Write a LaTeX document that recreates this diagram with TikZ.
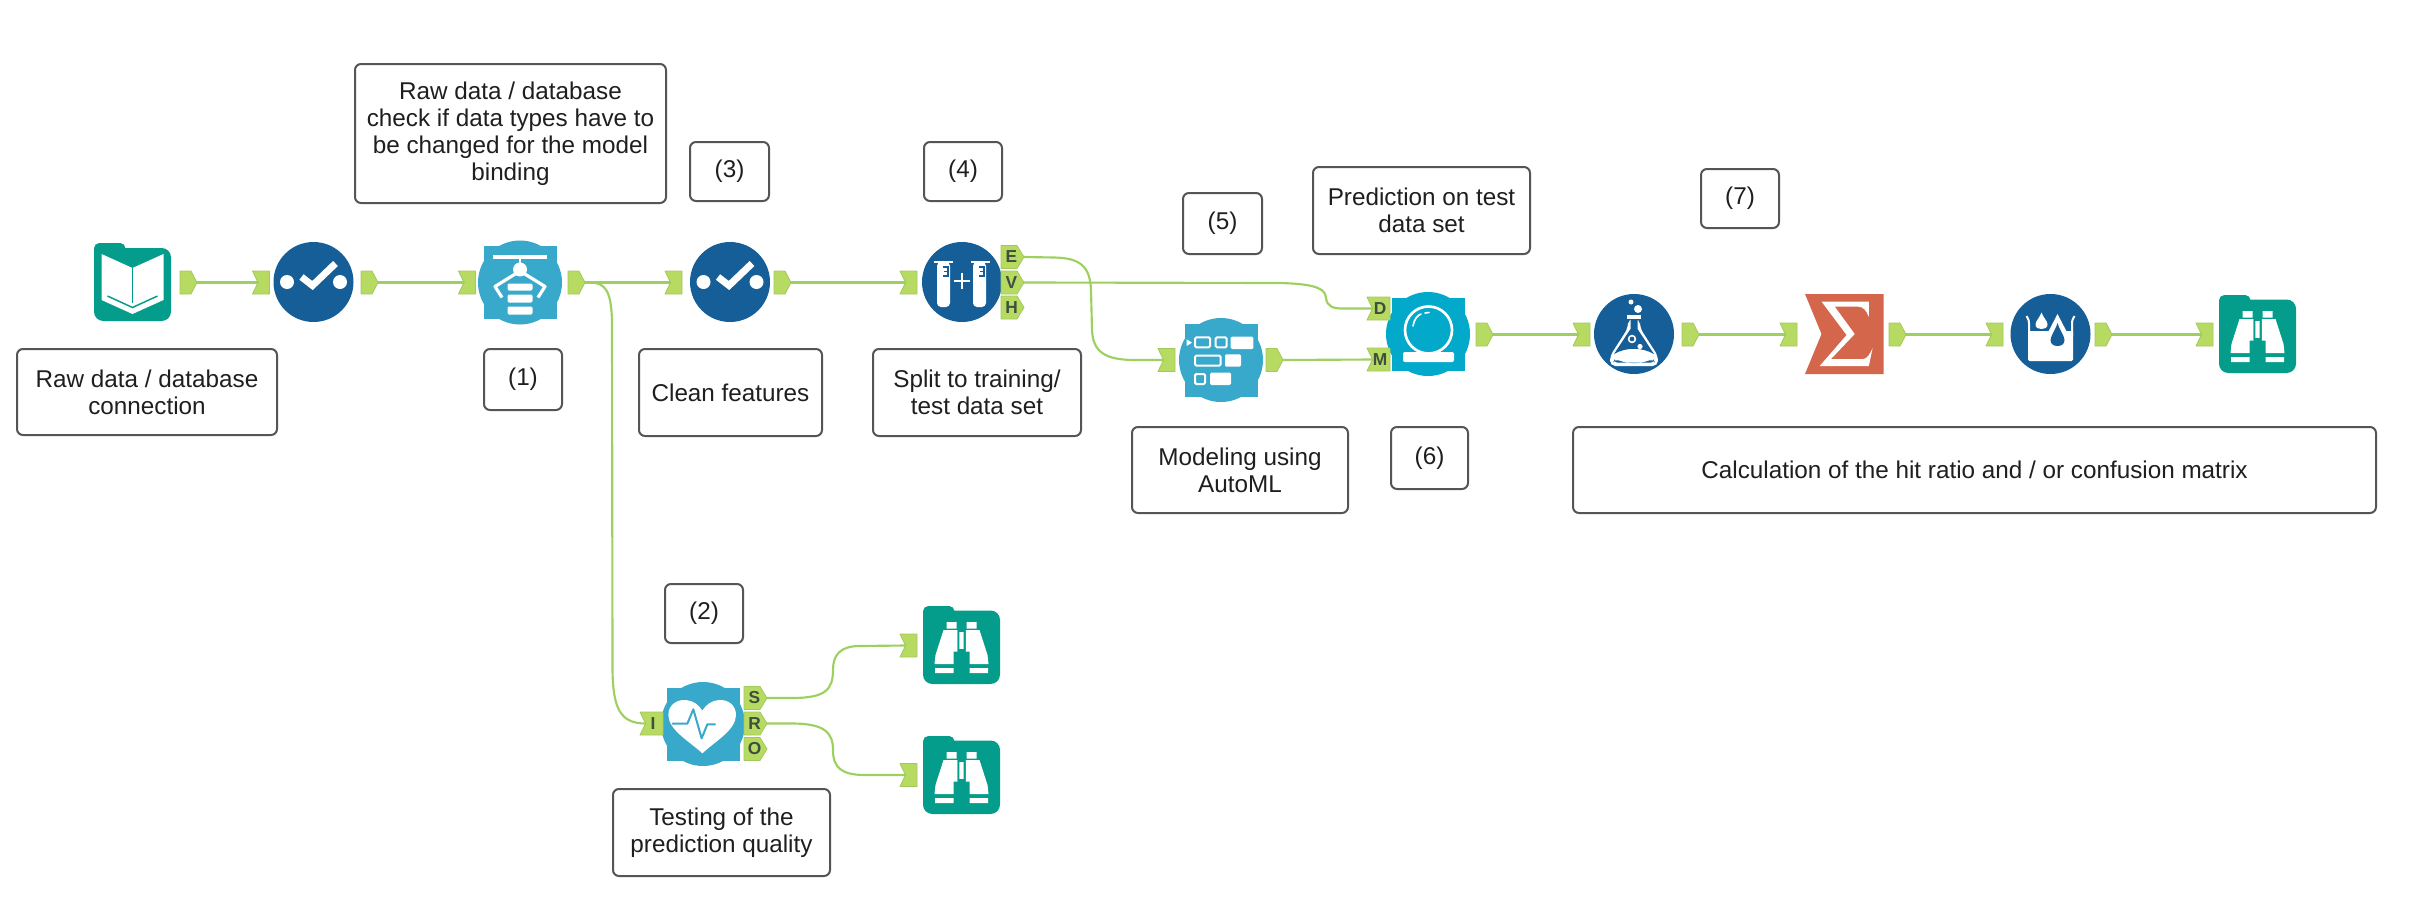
\documentclass[tikz,border=0pt]{standalone}
\usepackage{fontspec}
\setmainfont{Liberation Sans}
\definecolor{teal1}{HTML}{049C8A}
\definecolor{dblue}{HTML}{165E98}
\definecolor{lblue}{HTML}{38A8CB}
\definecolor{cblue}{HTML}{02A9CB}
\definecolor{sigm}{HTML}{D4664B}
\definecolor{tabg}{HTML}{B7DA62}
\definecolor{tabe}{HTML}{A3C95C}
\definecolor{wire}{HTML}{9DD05F}
\definecolor{tabt}{HTML}{3F4F3F}
\definecolor{boxe}{HTML}{555555}
\tikzset{
  tbox/.style={draw=boxe,line width=1.5pt,rounded corners=4.5pt,fill=white,align=center,inner sep=0pt,
    font=\fontsize{18.2}{20.2}\selectfont,text=black!88},
  wirel/.style={draw=wire,line width=1.6pt,line cap=round},
  tabs/.style={fill=tabg,draw=tabe,line width=0.6pt,line join=round},
  tablab/.style={font=\bfseries\fontsize{13}{13}\selectfont,text=tabt,inner sep=0pt},
  pics/checkc/.style={code={
    \fill[dblue] (0,0) circle (40);
    \fill[white] (-26.5,0) circle (7) (26.5,0) circle (7);
    \draw[white,line width=5.2pt] (-12,-5) -- (-1,3.5) -- (22,-18.5);
  }},
  pics/binoc/.style={code={
    \fill[teal1,rounded corners=4pt] (-38.5,-39) rectangle (-7,-20);
    \fill[teal1,rounded corners=7pt] (-38.5,-34.5) rectangle (38.5,39);
    \fill[white] (-15,-23) rectangle (-5,-16.5) (5,-23) rectangle (15,-16.5);
    \fill[white] (-18,-15) -- (-4,-15) -- (-4,6.5) -- (-8,6.5) -- (-8,19) -- (-27,19) -- (-26,10) -- cycle;
    \fill[white] (18,-15) -- (4,-15) -- (4,6.5) -- (8,6.5) -- (8,19) -- (27,19) -- (26,10) -- cycle;
    \fill[white] (-2.2,-13) rectangle (2.2,4);
    \fill[teal1] (-4,-15) rectangle (-2.2,6.5) (2.2,-15) rectangle (4,6.5);
    \fill[white] (-26.5,23) rectangle (-8,28) (26.5,23) rectangle (8,28);
  }},
  pics/squircle/.style={code={
    \fill[#1] (0,0) circle (42);
    \fill[#1] (-36.5,-36.5) rectangle (36.5,36.5);
  }},
}
\newcommand{\tb}[6]{%
  \pgfmathsetmacro{\tbw}{(#4-#2)*0.75}%
  \pgfmathsetmacro{\tbh}{(#5-#3)*0.75}%
  \node[tbox,minimum width=\tbw pt,minimum height=\tbh pt] (#1) at ({(#2+#4)/2},{(#3+#5)/2}) {#6};}
\newcommand{\outtab}[3]{%
  \draw[tabs] (#2,#3-11.5) -- (#2+11,#3-11.5) -- (#2+17,#3) -- (#2+11,#3+11.5) -- (#2,#3+11.5) -- cycle;
  \coordinate (#1) at (#2+17,#3);}
\newcommand{\outlab}[4]{%
  \draw[tabs] (#2,#3-11.5) -- (#2+16,#3-11.5) -- (#2+23,#3) -- (#2+16,#3+11.5) -- (#2,#3+11.5) -- cycle;
  \node[tablab] at (#2+10.5,#3) {#4};
  \coordinate (#1) at (#2+23,#3);}
\newcommand{\intab}[3]{%
  \draw[tabs] (#2,#3-11.5) -- (#2+17,#3-11.5) -- (#2+17,#3+11.5) -- (#2,#3+11.5) -- (#2+5.5,#3) -- cycle;
  \coordinate (#1) at (#2+5.5,#3);}
\newcommand{\inlab}[4]{%
  \draw[tabs] (#2,#3-11.5) -- (#2+23,#3-11.5) -- (#2+23,#3+11.5) -- (#2,#3+11.5) -- (#2+5.5,#3) -- cycle;
  \node[tablab] at (#2+13,#3) {#4};
  \coordinate (#1) at (#2+5.5,#3);}
\begin{document}
\begin{tikzpicture}[x=0.75pt,y=-0.75pt]
\useasboundingbox (0,0) rectangle (2428,921);
\fill[white] (0,0) rectangle (2428,921);

% text boxes
\tb{rawc}{17}{349}{277}{435}{Raw data / database\\connection}
\tb{rawt}{355}{64}{666}{203}{Raw data / database\\check if data types have to\\be changed for the model\\binding}
\tb{one}{484}{349}{562}{410}{(1)}
\tb{clean}{639}{349}{822}{436}{Clean features}
\tb{two}{665}{584}{743}{643}{(2)}
\tb{three}{690}{142}{769}{201}{(3)}
\tb{four}{924}{142}{1002}{201}{(4)}
\tb{split}{873}{349}{1081}{436}{Split to training/\\test data set}
\tb{five}{1183}{193}{1262}{254}{(5)}
\tb{predt}{1313}{167}{1530}{254}{Prediction on test\\data set}
\tb{model}{1132}{427}{1348}{513}{Modeling using\\AutoML}
\tb{six}{1391}{427}{1468}{489}{(6)}
\tb{seven}{1701}{169}{1779}{228}{(7)}
\tb{calc}{1573}{427}{2376}{513}{Calculation of the hit ratio and / or confusion matrix}
\tb{test}{613}{789}{830}{876}{Testing of the\\prediction quality}

% book icon
\begin{scope}[shift={(132.5,282)}]
  \fill[teal1,rounded corners=4pt] (-38.5,-39) rectangle (-7,-20);
  \fill[teal1,rounded corners=7pt] (-38.5,-34) rectangle (38.5,39);
  \fill[white] (-31,-28) -- (0,-14) -- (31,-28) -- (31,18) -- (0,32) -- (-31,18) -- cycle;
  \draw[teal1,line width=1.1pt] (0,-14) -- (0,21);
  \draw[teal1,line width=1.1pt] (-25,14) -- (0,25.5) -- (25,14);
\end{scope}

% select tools
\pic at (313.5,282) {checkc};
\pic at (730,282) {checkc};

% crane icon
\begin{scope}[shift={(520,282.5)}]
  \pic {squircle=lblue};
  \draw[white,line width=3pt] (-27,-26) -- (27,-26);
  \draw[white,line width=2pt] (0,-26) -- (0,-14);
  \fill[white] (0,-13) circle (7);
  \draw[white,line width=2.4pt,line join=round] (-4,-9) -- (-25,4) -- (-18,15);
  \draw[white,line width=2.4pt,line join=round] (4,-9) -- (25,4) -- (18,15);
  \fill[white,rounded corners=1pt] (-12.5,1) rectangle (12.5,8) (-12.5,12) rectangle (12.5,20) (-12.5,24) rectangle (12.5,32);
\end{scope}

% create samples
\begin{scope}[shift={(962,282)}]
  \fill[dblue] (0,0) circle (40);
  \fill[white] (-28,-21) rectangle (-9,-19);
  \fill[white,rounded corners=3pt] (-25,-20) -- (-12,-20) -- (-12,25) -- (-25,25) -- cycle;
  \fill[white] (9,-21) rectangle (28,-19);
  \fill[white,rounded corners=3pt] (11,-20) -- (24,-20) -- (24,25) -- (11,25) -- cycle;
  \draw[dblue,line width=1pt] (-19,-15) -- (-14,-15) -- (-14,-6) -- (-19,-6) (-14,-10.5) -- (-18,-10.5);
  \draw[dblue,line width=1pt] (17,-15) -- (22,-15) -- (22,-6) -- (17,-6) (22,-10.5) -- (18,-10.5);
  \draw[white,line width=1.3pt] (-8,-1) -- (8,-1) (0,-9) -- (0,7);
\end{scope}

% modelling icon
\pic at (1221,360) {squircle=lblue};
\begin{scope}[shift={(1150,230)},x=0.25pt,y=-0.25pt]
  \draw[white,line width=1.5pt,rounded corners=1pt] (135,322) rectangle (180,352) (197,322) rectangle (230,352) (135,377) rectangle (212,407) (135,432) rectangle (165,462);
  \fill[white,rounded corners=1pt] (242,320) rectangle (310,357) (225,373) rectangle (273,410) (180,428) rectangle (243,465);
  \fill[white] (110,328) -- (126,338) -- (110,348) -- cycle;
\end{scope}

% crystal ball
\begin{scope}[shift={(1428,334)}]
  \pic {squircle=cblue};
  \draw[white,line width=2pt] (0.5,-4) circle (23.5);
  \draw[white,line width=1.2pt,line cap=round] (-15,-8) .. controls (-14,-15) and (-10,-19) .. (-7,-20);
  \draw[white,line width=1.2pt,line cap=round] (-3,-21) -- (1,-21.5);
  \fill[white,rounded corners=1.5pt] (-25,18) rectangle (26,28);
\end{scope}

% flask
\begin{scope}[shift={(1634,334)}]
  \fill[dblue] (0,0) circle (40);
  \fill[white] (4,-25) circle (4) (-3,-32) circle (2.5);
  \fill[white] (-7,-19) rectangle (7,-15);
  \fill[white,rounded corners=4pt] (-6,-15) -- (6,-15) -- (6,-6) -- (24,22) -- (24,32) -- (-24,32) -- (-24,22) -- (-6,-6) -- cycle;
  \fill[dblue] (-3.5,-15) -- (3.5,-15) -- (3.5,-5) -- (20,20) .. controls (8,13) and (-8,13) .. (-20,20) -- (-3.5,-5) -- cycle;
  \fill[dblue,rounded corners=3pt] (-19,25) .. controls (-6,30) and (6,30) .. (19,25) -- (21,28.5) -- (-21,28.5) -- cycle;
  \draw[white,line width=1.2pt] (-2,5) circle (3.4);
  \fill[white] (6,12.5) circle (2.6);
\end{scope}

% sigma
\fill[sigm] (1805,294) -- (1883.5,294) -- (1883.5,374) -- (1805,374) -- (1821.5,334) -- cycle;
\fill[white] (1821.6,301.7) -- (1868.8,301.7) -- (1868.8,316.7) .. controls (1866,310) and (1863,306.7) .. (1858.4,306.7)
  -- (1834.8,306.7) -- (1854.7,334) -- (1831,359) -- (1863,359) .. controls (1867,359) and (1870,354) .. (1872.6,348)
  -- (1868.8,366) -- (1819.7,366) -- (1846.6,335) -- cycle;

% beaker
\begin{scope}[shift={(2050.5,334)}]
  \fill[dblue] (0,0) circle (40);
  \draw[white,line width=1.5pt,line join=round] (-24,-18) .. controls (-22,-14) and (-21.5,-14) .. (-21.5,-10) -- (-21.5,2);
  \draw[white,line width=1.5pt,line join=round] (24,-18) .. controls (22,-14) and (21.5,-14) .. (21.5,-10) -- (21.5,2);
  \fill[white,rounded corners=1pt] (-22.5,-3) rectangle (22.5,27);
  \fill[white] (-9,-21.5) .. controls (-7,-16) and (-3,-13) .. (-3,-9.5) .. controls (-3,-6) and (-6,-5) .. (-9,-5) .. controls (-12,-5) and (-15,-6) .. (-15,-9.5) .. controls (-15,-13) and (-11,-16) .. (-9,-21.5) -- cycle;
  \fill[white] (7,-20) -- (21,7) -- (-7,7) -- cycle;
  \fill[dblue] (7,-11) .. controls (8,-6) and (14,2) .. (14,6) .. controls (14,10) and (11,12) .. (7,12) .. controls (3,12) and (0,10) .. (0,6) .. controls (0,2) and (6,-6) .. (7,-11) -- cycle;
\end{scope}

% browse tools
\pic at (2257.5,334) {binoc};
\pic at (961.5,645) {binoc};
\pic at (961.5,775) {binoc};

% heart
\pic at (703,724) {squircle=lblue};
\begin{scope}[shift={(600,590)},x=0.25pt,y=-0.25pt]
  \fill[white] (307,490) .. controls (270,455) and (205,420) .. (205,375) .. controls (205,345) and (230,328) .. (258,330)
    .. controls (280,332) and (297,345) .. (307,362) .. controls (317,345) and (334,332) .. (356,330)
    .. controls (384,328) and (408,345) .. (408,375) .. controls (408,420) and (344,455) .. (307,490) -- cycle;
  \draw[lblue,line width=1.5pt,line join=round,line cap=round] (218,401) -- (262,401) -- (280,358) -- (305,445) -- (322,403) -- (345,403);
\end{scope}

% anchor tabs
\outtab{aout}{180}{282.5}
\intab{bin}{252.5}{282.5}
\outtab{bout}{361}{282.5}
\intab{cin}{458.5}{282.5}
\outtab{cout}{568}{282.5}
\intab{din}{665}{282.5}
\outtab{dout}{774}{282.5}
\intab{ein}{900}{282.5}
\outlab{eE}{1001}{257}{E}
\outlab{eV}{1001}{282.5}{V}
\outlab{eH}{1001}{307.5}{H}
\intab{fin}{1158}{360}
\outtab{fout}{1266}{360}
\inlab{gD}{1367}{308.5}{D}
\inlab{gM}{1367}{359.5}{M}
\outtab{gout}{1476}{334.5}
\intab{hin}{1573}{334.5}
\outtab{hout}{1682}{334.5}
\intab{iin}{1780}{334.5}
\outtab{iout}{1889}{334.5}
\intab{jin}{1986}{334.5}
\outtab{jout}{2095}{334.5}
\intab{kin}{2196}{334.5}
\inlab{hI}{640}{723.5}{I}
\outlab{hS}{744}{698}{S}
\outlab{hR}{744}{723.5}{R}
\outlab{hO}{744}{749}{O}
\intab{mS}{900}{645.5}
\intab{mR}{900}{775}

% connectors
\draw[wirel] (aout) -- (bin);
\draw[wirel] (bout) -- (cin);
\draw[wirel] (cout) -- (din);
\draw[wirel] (dout) -- (ein);
\draw[wirel] (fout) -- (gM);
\draw[wirel] (gout) -- (hin);
\draw[wirel] (hout) -- (iin);
\draw[wirel] (iout) -- (jin);
\draw[wirel] (jout) -- (kin);
\draw[wirel] (cout) -- ++(5,0) .. controls ++(16,0) and (611,292) .. (612,320) -- (612.5,670) .. controls (613,708) and (620,723.5) .. (hI);
\draw[wirel] (eE) -- ++(30,0.5) .. controls (1080,258) and (1090,266) .. (1091,290) -- (1092,330) .. controls (1093,352) and (1105,360) .. (1135,360) -- (fin);
\draw[wirel] (eV) -- (1280,283) .. controls (1320,284) and (1325,290) .. (1326,298) .. controls (1327,306) and (1332,309) .. (1345,308.5) -- (gD);
\draw[wirel] (hS) -- ++(25,0) .. controls (825,698) and (833,690) .. (833,670) .. controls (833,655) and (840,646) .. (860,646) -- (mS);
\draw[wirel] (hR) -- ++(25,0) .. controls (825,723.5) and (833,733) .. (833,750) .. controls (833,768) and (842,775) .. (865,775) -- (mR);
\end{tikzpicture}
\end{document}
